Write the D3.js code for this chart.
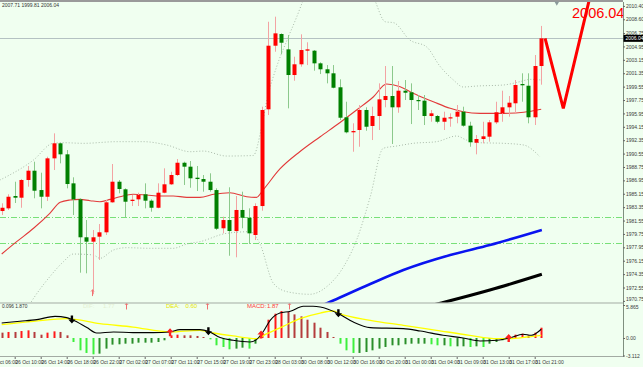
<!DOCTYPE html>
<html>
<head>
<meta charset="utf-8">
<script src="https://cdn.jsdelivr.net/npm/d3@7"></script>
<style>
  html, body { margin: 0; padding: 0; background: #f0fff0; }
  svg { display: block; font-family: "Liberation Sans", Arial, sans-serif; }
</style>
</head>
<body>
<svg id="chart"></svg>
<script>
// ---- values ----
// one row per hourly bar: [open, high, low, close]
var candles = [
  [1982.83,1983.87,1982.29,1983.27],[1983.19,1985.08,1982.97,1984.75],[1984.85,1986.77,1983.91,1984.62],
  [1984.62,1987.13,1983.27,1987.00],[1987.00,1988.88,1986.10,1988.25],[1988.25,1989.46,1984.54,1985.56],
  [1985.65,1987.98,1983.19,1984.75],[1984.75,1990.13,1984.18,1989.91],[1989.91,1993.27,1988.34,1991.93],
  [1991.93,1992.01,1989.24,1990.45],[1990.45,1991.03,1985.88,1986.46],[1986.55,1987.36,1982.29,1984.40],
  [1984.40,1984.54,1974.54,1979.30],[1979.30,1981.62,1974.46,1978.71],[1978.71,1980.28,1971.64,1979.30],
  [1979.38,1981.08,1976.25,1979.97],[1979.97,1984.31,1979.61,1984.00],[1984.00,1989.15,1983.95,1986.77],
  [1986.77,1987.00,1985.21,1985.79],[1985.75,1985.88,1981.99,1984.08],[1984.18,1984.98,1983.50,1984.35],
  [1984.40,1985.29,1983.50,1984.98],[1985.08,1986.55,1983.19,1984.22],[1984.22,1984.40,1982.74,1983.27],
  [1983.27,1986.55,1983.19,1985.29],[1985.29,1988.57,1985.21,1986.42],[1986.42,1988.11,1986.33,1987.67],
  [1987.67,1989.82,1987.54,1989.32],[1989.32,1989.46,1986.33,1988.79],[1988.79,1989.55,1985.96,1987.23],
  [1987.31,1988.88,1985.52,1987.13],[1987.13,1987.67,1985.43,1986.77],[1986.77,1987.90,1985.43,1985.65],
  [1985.65,1985.88,1980.28,1980.45],[1980.51,1982.07,1979.83,1981.62],[1981.62,1986.02,1976.82,1980.14],
  [1980.14,1984.85,1976.61,1982.97],[1982.97,1985.43,1980.51,1981.93],[1981.93,1983.19,1978.40,1979.83],
  [1979.61,1983.87,1978.93,1983.50],[1983.50,1996.85,1982.87,1996.41],[1996.50,2008.27,1995.73,2005.05],
  [2005.05,2008.95,2004.24,2006.71],[2006.62,2006.71,2003.93,2005.45],[2004.56,2006.49,1996.63,2001.11],
  [2001.11,2003.57,2000.34,2002.55],[2002.55,2006.58,2002.23,2004.47],[2004.38,2005.51,2002.45,2004.56],
  [2004.38,2004.47,2001.69,2002.68],[2002.68,2002.82,2001.24,2001.88],[2001.88,2002.45,1999.99,2001.34],
  [2001.34,2002.45,1999.32,1999.40],[1999.46,2000.53,1995.06,1995.37],[1995.43,1997.52,1993.27,1993.41],
  [1993.41,1994.62,1990.80,1993.58],[1993.72,1997.08,1991.47,1996.41],[1996.41,1996.77,1993.62,1994.16],
  [1994.26,1996.85,1992.37,1995.60],[1995.60,1999.99,1993.72,1997.84],[1997.75,2002.32,1996.77,1998.29],
  [1998.29,2002.32,1991.84,1996.77],[1996.77,2000.30,1996.04,1999.00],[1999.00,2000.44,1997.75,1998.73],
  [1998.79,1999.99,1994.52,1997.75],[1997.75,1998.42,1996.41,1997.66],[1997.66,1998.42,1994.39,1995.60],
  [1995.60,1996.41,1994.83,1995.96],[1995.60,1995.73,1994.62,1994.83],[1994.83,1996.18,1993.72,1995.37],
  [1995.29,1995.96,1994.16,1995.43],[1995.51,1997.08,1994.62,1996.18],[1996.18,1996.85,1994.16,1994.30],
  [1994.30,1994.83,1991.47,1992.07],[1992.01,1993.05,1990.45,1992.51],[1992.51,1994.83,1991.93,1992.87],
  [1992.82,1995.06,1992.15,1994.75],[1994.75,1997.52,1994.52,1996.10],[1995.96,1999.00,1994.83,1996.77],
  [1996.77,1998.29,1995.51,1997.39],[1997.31,2000.44,1995.96,1999.77],[1999.90,2001.34,1997.52,1999.73],
  [1999.67,2001.34,1994.62,1995.43],[1995.43,2003.80,1994.39,2002.32],[2002.32,2007.71,1999.81,2006.04]
];

// [bar index, price] samples
var maLine = [[0,1977.05],[2.3,1978.71],[4.9,1980.51],[7.4,1982.52],[9,1984.00],[10.5,1984.31],[12,1984.40],
  [13.6,1984.22],[15.1,1984.08],[16.7,1984.40],[18.2,1984.75],[20.2,1985.08],[22.3,1984.98],[24.4,1984.85],
  [26.4,1984.85],[28.5,1984.67],[30.5,1984.67],[32.6,1985.08],[35.1,1985.29],[37.7,1984.75],[39.2,1984.67],
  [40.2,1985.65],[42.8,1988.48],[45.9,1990.83],[49,1992.82],[52,1994.70],[54.6,1996.41],[57.2,1998.19],
  [59.2,1999.90],[61.3,1999.54],[63.3,1998.65],[66.4,1997.52],[69,1996.63],[71,1996.18],[73.6,1995.96],
  [77.2,1995.96],[80.3,1996.10],[83,1996.50]];

var bbUpper = [[-0.3,1986.98],[4.9,1989.69],[7.9,1991.93],[9.5,1992.01],[12.6,1991.93],[17.7,1992.15],
  [21.8,1992.15],[25.4,1991.70],[29,1990.80],[31,1990.89],[34.6,1990.22],[38.7,1990.29],[40,1994.16],
  [40.8,1997.75],[42.3,2002.23],[43.9,2005.81],[45.4,2008.95],[46.4,2011.19],[49,2015.2],[52.8,2017.2],
  [55.9,2014.6],[57.4,2011.19],[59,2008.27],[60.3,2008.14],[62.8,2005.81],[65.4,2004.87],[67.4,2002.32],
  [69.5,2000.44],[71,1999.50],[73.1,1999.63],[77.2,1999.77],[79.7,2000.21],[81.3,2000.53],[83,2000.44]];

var bbLower = [[-0.3,1964.8],[2,1966.8],[4.9,1971.10],[7.4,1974.00],[9.5,1976.02],[11,1977.05],[14.1,1976.92],
  [15.1,1976.47],[17.2,1977.59],[19.2,1977.90],[22.8,1977.82],[26.4,1977.82],[28.5,1978.40],[30.5,1978.71],
  [34.6,1979.83],[38.2,1980.05],[39.7,1978.49],[41.8,1973.11],[43.9,1971.99],[47.4,1971.64],[50,1972.66],
  [52.6,1975.35],[54.6,1978.93],[56.7,1984.75],[58.7,1991.26],[60.8,1991.57],[63.3,1991.93],[66.9,1992.15],
  [70,1992.91],[71.5,1992.37],[73.6,1992.01],[77.2,1991.93],[80.3,1991.70],[82.8,1990.13]];

var blueLine = [[46,1968.9],[51,1970.80],[56.7,1973.02],[61.8,1974.90],[69,1976.92],[75.1,1978.26],[83.1,1980.28]];
var blackLine = [[62,1969.3],[68.5,1970.67],[75.1,1972.21],[83.1,1974.33]];
var zigzag = [[83.6,2006.04],[86.4,1996.63],[90.5,2011.6]];

var levels = [1982.07, 1978.49];
var lastPrice = 2006.04;
var titleText = "2007.71 1999.81 2006.04";

var priceTicks = [2010.40,2008.60,2006.75,2004.95,2003.15,2001.35,1999.55,1997.75,1995.95,1994.15,1992.35,
  1990.55,1988.75,1986.95,1985.15,1983.35,1981.55,1979.75,1977.95,1976.15,1974.35,1972.55,1970.75];

var timeTicks = [-2,2,6,10,14,18,22,26,30,34,38,42,46,50,54,58,62,66,70,74,78,82];
var timeLabels = ["26 Oct 06:00","26 Oct 10:00","26 Oct 14:00","26 Oct 18:00","26 Oct 22:00","27 Oct 02:00",
  "27 Oct 07:00","27 Oct 11:00","27 Oct 15:00","27 Oct 19:00","27 Oct 23:00","28 Oct 03:00","30 Oct 08:00",
  "30 Oct 12:00","30 Oct 16:00","30 Oct 20:00","31 Oct 00:00","31 Oct 04:00","31 Oct 09:00","31 Oct 13:00",
  "31 Oct 17:00","31 Oct 21:00"];

// MACD sub-window
var macdHist = [0.95,1.07,1.07,1.24,1.36,1.07,0.59,0.95,1.18,1.07,
  0.47,-0.71,-2.19,-2.66,-2.90,-2.78,-1.89,-1.18,-1.12,-1.01,
  -1.01,-0.83,-0.83,-0.83,-0.71,-0.41,0.47,0.59,0.47,0.47,
  0.36,0.18,-0.24,-1.30,-1.60,-2.01,-1.89,-1.72,-1.89,-1.01,
  0.77,3.25,4.32,4.79,4.62,4.20,3.85,3.25,2.72,1.83,
  1.07,0.18,-1.01,-2.19,-2.66,-2.66,-2.49,-2.19,-1.89,-1.60,
  -1.30,-1.30,-1.12,-1.01,-1.01,-1.01,-1.12,-1.30,-1.30,-1.48,
  -1.48,-1.48,-1.60,-1.48,-1.60,-1.01,-0.71,-0.41,0.18,0.59,
  0.77,0.47,0.95,1.83];
var difLine = [[0,2.66],[2.8,2.97],[5.4,3.27],[8.2,3.85],[10,3.62],[10.8,3.27],[13.1,1.85],[14.6,0.89],
  [17.2,1.07],[20.2,0.96],[23.3,0.96],[25.9,1.07],[27.4,1.49],[30.5,1.49],[31.8,1.19],[33.6,0.07],
  [35.6,-0.41],[38.2,-0.71],[39.2,-0.28],[40.2,1.07],[41.3,3.14],[42.8,4.44],[44.4,4.74],[46.4,5.63],
  [47.9,5.63],[49,5.51],[51.8,4.33],[54.1,2.84],[56.7,1.85],[61.8,1.67],[64.4,1.24],[67.9,0.48],
  [71,0],[73.6,-0.53],[76.2,-0.41],[78.2,0],[80.2,0.66],[81.5,0.48],[83,1.55]];
var deaLine = [[0,2.38],[4.9,2.97],[10,3.45],[15.1,2.56],[20.2,1.95],[25.9,1.07],[30.5,1.37],[32.6,0.89],
  [35.6,0.36],[39.2,-0.11],[40.8,0.78],[43.3,2.08],[45.9,3.45],[49,4.44],[51,4.80],[52,4.33],[56.7,3.14],
  [61.8,2.26],[66.9,1.37],[72,0.48],[76.2,-0.11],[78.2,-0.11],[80.8,0.18],[83,0.48]];
var macdTicks = [5.865, 0, -3.112];
var macdTickLabels = ["5.865", "0.00", "-3.112"];
var downArrows = [[10.8,3.3],[31.8,1.2],[51.8,4.4]];
var upArrows = [[25.9,1.0],[39.9,0.6],[78,0.0]];
var signalTicksMain = [[13.9,1971.8]];
var signalTicksMacd = [[19.1,5.6],[31.6,5.6],[44.2,5.6]];

// ---- layout ----
var W = 643, H = 367;
var axisX = 623;
var mainTop = 2, mainBottom = 302.7, subBottom = 357;

var svg = d3.select("#chart").attr("width", W).attr("height", H);
svg.append("rect").attr("width", W).attr("height", H).attr("fill", "#f0fff0");

var x = d3.scaleLinear().domain([0, 83]).range([1.7, 541.2]);
var y = d3.scaleLinear().domain([2010.40, 1970.75]).range([5.9, 300.9]);
var ym = d3.scaleLinear().domain([5.865, -3.112]).range([305, 355.5]);

var defs = svg.append("defs");
defs.append("clipPath").attr("id", "mainClip").append("rect")
  .attr("x", 0).attr("y", mainTop).attr("width", axisX).attr("height", mainBottom - mainTop);
defs.append("clipPath").attr("id", "subClip").append("rect")
  .attr("x", 0).attr("y", mainBottom + 0.5).attr("width", axisX).attr("height", subBottom - mainBottom - 0.5);

// top strip
svg.append("rect").attr("x", 0).attr("y", 0).attr("width", axisX).attr("height", 2).attr("fill", "#9a9a9a");

var main = svg.append("g").attr("clip-path", "url(#mainClip)");

var line = d3.line().x(function(d) { return x(d[0]); }).y(function(d) { return y(d[1]); });
var smooth = d3.line().x(function(d) { return x(d[0]); }).y(function(d) { return y(d[1]); }).curve(d3.curveMonotoneX);

// horizontal levels
main.selectAll(".lvl").data(levels).enter().append("line")
  .attr("x1", 0).attr("x2", axisX)
  .attr("y1", function(d) { return Math.round(y(d)) + 0.5; })
  .attr("y2", function(d) { return Math.round(y(d)) + 0.5; })
  .attr("stroke", "#78e078").attr("stroke-width", 1).attr("stroke-dasharray", "6,2,1,2");

// last price line
main.append("line").attr("x1", 0).attr("x2", axisX)
  .attr("y1", Math.round(y(lastPrice)) + 0.5).attr("y2", Math.round(y(lastPrice)) + 0.5)
  .attr("stroke", "#b4c2c2").attr("stroke-width", 1);

// bollinger bands
[bbUpper, bbLower].forEach(function(band) {
  main.append("path").datum(band).attr("d", smooth)
    .attr("fill", "none").attr("stroke", "#a9b9a9").attr("stroke-width", 1).attr("stroke-dasharray", "1,2");
});

// moving average
main.append("path").datum(maLine).attr("d", smooth)
  .attr("fill", "none").attr("stroke", "#e23a3a").attr("stroke-width", 1.1);

// long averages
main.append("path").datum(blueLine).attr("d", smooth)
  .attr("fill", "none").attr("stroke", "#0a14f0").attr("stroke-width", 2.6);
main.append("path").datum(blackLine).attr("d", smooth)
  .attr("fill", "none").attr("stroke", "#000").attr("stroke-width", 3);

// candles
var cg = main.selectAll(".candle").data(candles).enter().append("g");
cg.append("line")
  .attr("x1", function(d, i) { return Math.round(x(i)) + 0.5; })
  .attr("x2", function(d, i) { return Math.round(x(i)) + 0.5; })
  .attr("y1", function(d) { return y(d[1]); })
  .attr("y2", function(d) { return y(d[2]); })
  .attr("stroke", function(d) { return d[3] >= d[0] ? "#f3a3a3" : "#8cc98c"; })
  .attr("stroke-width", 1);
cg.append("rect")
  .attr("x", function(d, i) { return Math.round(x(i)) - 1.5; })
  .attr("width", 4)
  .attr("y", function(d) { return y(Math.max(d[0], d[3])); })
  .attr("height", function(d) { return Math.max(1.2, Math.abs(y(d[0]) - y(d[3]))); })
  .attr("fill", function(d) { return d[3] >= d[0] ? "#ff0000" : "#008000"; });

// hand-drawn zigzag trend line
main.append("path").datum(zigzag).attr("d", line)
  .attr("fill", "none").attr("stroke", "#ff0000").attr("stroke-width", 3).attr("stroke-linejoin", "miter");

// small signal ticks
function sigTick(g, px, py) {
  g.append("line").attr("x1", px).attr("x2", px).attr("y1", py - 3).attr("y2", py + 3)
    .attr("stroke", "#f07070").attr("stroke-width", 1);
  g.append("path").attr("d", "M" + (px - 1.5) + "," + (py - 1.5) + "L" + px + "," + (py - 3.5) + "L" + (px + 1.5) + "," + (py - 1.5))
    .attr("fill", "none").attr("stroke", "#f07070").attr("stroke-width", 0.8);
}
signalTicksMain.forEach(function(d) { sigTick(main, Math.round(x(d[0])) + 0.5, y(d[1])); });

// big last price text
svg.append("text").attr("x", 572).attr("y", 17.5)
  .attr("font-size", 14.5).attr("fill", "#ff0000").text(lastPrice.toFixed(2));

// title
svg.append("text").attr("x", 2).attr("y", 7).attr("font-size", 5).attr("fill", "#333").text(titleText);

// chart shift marker
svg.append("path")
  .attr("d", d3.symbol().type(d3.symbolTriangle).size(10))
  .attr("transform", "translate(" + x(85.4) + ",3) rotate(180)")
  .attr("fill", "#8a9a9a");

// ---- MACD window ----
var sub = svg.append("g").attr("clip-path", "url(#subClip)");
sub.selectAll(".hb").data(macdHist).enter().append("rect")
  .attr("x", function(d, i) { return Math.round(x(i)) - 0.5; })
  .attr("width", 2)
  .attr("y", function(d) { return d >= 0 ? ym(d) : ym(0); })
  .attr("height", function(d) { return Math.max(0.8, Math.abs(ym(d) - ym(0))); })
  .attr("fill", function(d, i) {
    var prev = i > 0 ? macdHist[i - 1] : d;
    if (d >= 0) return d > prev ? "#ff1a1a" : "#b43c3c";
    return d < prev ? "#3cf03c" : "#2a8f2a";
  });

var mline = d3.line().x(function(d) { return x(d[0]); }).y(function(d) { return ym(d[1]); }).curve(d3.curveMonotoneX);
sub.append("path").datum(deaLine).attr("d", mline)
  .attr("fill", "none").attr("stroke", "#ffff00").attr("stroke-width", 1.3);
sub.append("path").datum(difLine).attr("d", mline)
  .attr("fill", "none").attr("stroke", "#000").attr("stroke-width", 1.1);

var arrowDown = "M-1.2,-4L1.2,-4L1.2,0L3.6,0L0,4L-3.6,0L-1.2,0Z";
sub.selectAll(".da").data(downArrows).enter().append("path")
  .attr("d", arrowDown)
  .attr("transform", function(d) { return "translate(" + x(d[0]) + "," + ym(d[1]) + ")"; })
  .attr("fill", "#000");
sub.selectAll(".ua").data(upArrows).enter().append("path")
  .attr("d", arrowDown)
  .attr("transform", function(d) { return "translate(" + x(d[0]) + "," + ym(d[1]) + ") rotate(180)"; })
  .attr("fill", "#ff2020");
signalTicksMacd.forEach(function(d) { sigTick(sub, Math.round(x(d[0])) + 0.5, ym(d[1])); });

// MACD header texts
var hdr = svg.append("g").attr("font-size", 6);
hdr.append("text").attr("x", 2).attr("y", 308).attr("font-size", 4.8).attr("fill", "#333").text("0.096 1.870");
hdr.append("text").attr("x", 83).attr("y", 308.3).attr("fill", "#e3efd2").text("DIF:");
hdr.append("text").attr("x", 103).attr("y", 308.3).attr("fill", "#e3efd2").text("1.77");
hdr.append("text").attr("x", 166).attr("y", 308.3).attr("fill", "#e6e600").text("DEA:");
hdr.append("text").attr("x", 185.5).attr("y", 308.3).attr("fill", "#e6e600").text("0.60");
hdr.append("text").attr("x", 247).attr("y", 308.3).attr("fill", "#ff3a3a").text("MACD:");
hdr.append("text").attr("x", 267).attr("y", 308.3).attr("fill", "#ff3a3a").text("1.87");

// panel borders
svg.append("line").attr("x1", 0).attr("x2", axisX).attr("y1", mainBottom + 0.3).attr("y2", mainBottom + 0.3)
  .attr("stroke", "#a3aba3").attr("stroke-width", 1);
svg.append("line").attr("x1", 0).attr("x2", axisX).attr("y1", subBottom - 0.5).attr("y2", subBottom - 0.5)
  .attr("stroke", "#a3aba3").attr("stroke-width", 1);
svg.append("line").attr("x1", axisX + 0.5).attr("x2", axisX + 0.5).attr("y1", 2).attr("y2", subBottom)
  .attr("stroke", "#7f8f7f").attr("stroke-width", 1);

// ---- axes ----
function styleAxis(g) {
  g.attr("font-size", 5).attr("font-family", "'Liberation Sans', Arial, sans-serif");
  g.select(".domain").remove();
  g.selectAll(".tick line").attr("stroke", "#666");
  g.selectAll(".tick text").attr("fill", "#3a3a3a");
}

var yAxis = svg.append("g").attr("transform", "translate(" + axisX + ",0)")
  .call(d3.axisRight(y).tickValues(priceTicks).tickSize(2).tickPadding(1).tickFormat(d3.format(".2f")));
styleAxis(yAxis);
// the lowest price label sits right on the window border, keep it just above
yAxis.selectAll(".tick text").filter(function(d) { return d === priceTicks[priceTicks.length - 1]; })
  .attr("dy", "-0.1em");

var mAxis = svg.append("g").attr("transform", "translate(" + axisX + ",0)")
  .call(d3.axisRight(ym).tickValues(macdTicks).tickSize(2).tickPadding(1)
    .tickFormat(function(d, i) { return macdTickLabels[i]; }));
styleAxis(mAxis);
mAxis.selectAll(".tick text").filter(function(d) { return d === macdTicks[0]; }).attr("dy", "0.75em");

var xAxis = svg.append("g").attr("transform", "translate(0," + subBottom + ")")
  .call(d3.axisBottom(x).tickValues(timeTicks).tickSize(2).tickPadding(1)
    .tickFormat(function(d, i) { return timeLabels[i]; }));
styleAxis(xAxis);
xAxis.selectAll(".tick text").attr("text-anchor", "start").attr("x", 0);

// last price box on the axis
var lp = svg.append("g").attr("transform", "translate(" + axisX + "," + y(lastPrice) + ")");
lp.append("rect").attr("x", 0.5).attr("y", -3.5).attr("width", 19.5).attr("height", 7).attr("fill", "#000");
lp.append("text").attr("x", 2.5).attr("y", 1.8).attr("font-size", 5).attr("fill", "#fff").text(lastPrice.toFixed(2));
</script>
</body>
</html>
